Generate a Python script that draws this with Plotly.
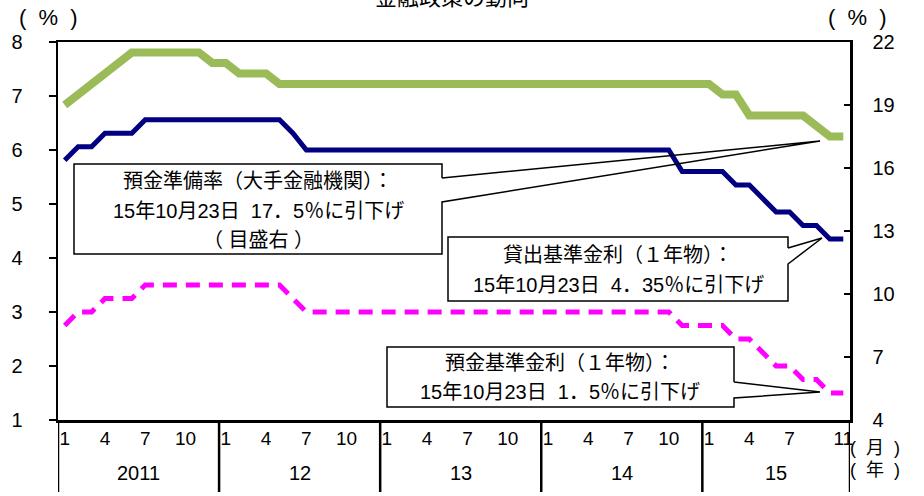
import plotly.graph_objects as go

# ---------------- data ----------------
years = ["2011", "12", "13", "14", "15"]
month_numbers = (list(range(1, 13)) * 4) + list(range(1, 12))  # Jan 2011 .. Nov 2015
month_tick_labels = ["1", "4", "7", "10", "1", "4", "7", "10", "1", "4", "7", "10",
                     "1", "4", "7", "10", "1", "4", "7", "11"]

# 貸出基準金利（1年物）, % (left axis)
lending_rate = [
    5.81, 6.06, 6.06, 6.31, 6.31, 6.31, 6.56, 6.56, 6.56, 6.56, 6.56, 6.56,
    6.56, 6.56, 6.56, 6.56, 6.56, 6.31, 6.00, 6.00, 6.00, 6.00, 6.00, 6.00,
    6.00, 6.00, 6.00, 6.00, 6.00, 6.00, 6.00, 6.00, 6.00, 6.00, 6.00, 6.00,
    6.00, 6.00, 6.00, 6.00, 6.00, 6.00, 6.00, 6.00, 6.00, 6.00, 5.60, 5.60,
    5.60, 5.60, 5.35, 5.35, 5.10, 4.85, 4.85, 4.60, 4.60, 4.35, 4.35,
]
# 預金基準金利（1年物）, % (left axis)
deposit_rate = [
    2.75, 3.00, 3.00, 3.25, 3.25, 3.25, 3.50, 3.50, 3.50, 3.50, 3.50, 3.50,
    3.50, 3.50, 3.50, 3.50, 3.50, 3.25, 3.00, 3.00, 3.00, 3.00, 3.00, 3.00,
    3.00, 3.00, 3.00, 3.00, 3.00, 3.00, 3.00, 3.00, 3.00, 3.00, 3.00, 3.00,
    3.00, 3.00, 3.00, 3.00, 3.00, 3.00, 3.00, 3.00, 3.00, 3.00, 2.75, 2.75,
    2.75, 2.75, 2.50, 2.50, 2.25, 2.00, 2.00, 1.75, 1.75, 1.50, 1.50,
]
# 預金準備率（大手金融機関）, % (right axis)
reserve_ratio = [
    19.0, 19.5, 20.0, 20.5, 21.0, 21.5, 21.5, 21.5, 21.5, 21.5, 21.5, 21.0,
    21.0, 20.5, 20.5, 20.5, 20.0, 20.0, 20.0, 20.0, 20.0, 20.0, 20.0, 20.0,
    20.0, 20.0, 20.0, 20.0, 20.0, 20.0, 20.0, 20.0, 20.0, 20.0, 20.0, 20.0,
    20.0, 20.0, 20.0, 20.0, 20.0, 20.0, 20.0, 20.0, 20.0, 20.0, 20.0, 20.0,
    20.0, 19.5, 19.5, 18.5, 18.5, 18.5, 18.5, 18.5, 18.0, 17.5, 17.5,
]

left_ticks = [1, 2, 3, 4, 5, 6, 7, 8]
right_ticks = [4, 7, 10, 13, 16, 19, 22]

# ---------------- layout geometry (pixels) ----------------
W, H = 924, 496
L, R, T, B = 58, 850, 42, 420
FONT = "Liberation Sans, Arial, Noto Sans CJK JP, sans-serif"


def px(x):
    return (x - L) / (R - L)


def py(y):
    return (B - y) / (B - T)


n = len(month_numbers)
xs = list(range(n))
month_tick_vals = [i for i, m in enumerate(month_numbers)
                   if (i < 48 and m in (1, 4, 7, 10)) or (i >= 48 and m in (1, 4, 7, 11))]

fig = go.Figure()
fig.add_trace(go.Scatter(x=xs, y=reserve_ratio, yaxis="y2", mode="lines",
                         line=dict(color="#9BBB59", width=8), name="預金準備率",
                         hoverinfo="skip"))
fig.add_trace(go.Scatter(x=xs, y=lending_rate, mode="lines",
                         line=dict(color="#000080", width=5), name="貸出基準金利",
                         hoverinfo="skip"))
fig.add_trace(go.Scatter(x=xs, y=deposit_rate, mode="lines",
                         line=dict(color="#FF00FF", width=5, dash="14px,9px"),
                         name="預金基準金利", hoverinfo="skip"))

shapes = []
annotations = []

# year separators below the axis
for k in range(len(years) + 1):
    xv = -0.5 + 12 * k if k < len(years) else n - 0.5
    shapes.append(dict(type="line", xref="x", yref="paper", x0=xv, x1=xv,
                       y0=0, y1=py(492), line=dict(color="black", width=2.5),
                       layer="above"))
for k, yr in enumerate(years):
    start = 12 * k
    end = min(12 * (k + 1), n) - 1
    annotations.append(dict(x=(start + end) / 2, xref="x", y=py(473), yref="paper",
                            text=yr, showarrow=False, xanchor="center",
                            yanchor="middle", font=dict(size=20, color="black")))


def callout(x0, y0, x1, y1, ya, yb, tipx, tipy):
    # white box
    shapes.append(dict(type="rect", xref="paper", yref="paper",
                       x0=px(x0), x1=px(x1), y0=py(y0), y1=py(y1),
                       fillcolor="white", line=dict(width=0), layer="above"))
    pts = [(x1, ya), (x1, y0), (x0, y0), (x0, y1), (x1, y1), (x1, yb), (tipx, tipy), (x1, ya)]
    path = "M " + " L ".join(f"{px(a):.5f},{py(b):.5f}" for a, b in pts)
    shapes.append(dict(type="path", xref="paper", yref="paper", path=path,
                       fillcolor="rgba(0,0,0,0)", line=dict(color="black", width=1.5),
                       layer="above"))


def text_lines(cx, ys, lines):
    for yv, t in zip(ys, lines):
        annotations.append(dict(x=px(cx), xref="paper", y=py(yv), yref="paper",
                                text=t, showarrow=False, xanchor="center",
                                yanchor="middle", font=dict(size=20, color="black")))


callout(74, 164, 442, 254, 178, 202, 820, 141)
text_lines(258, [181, 211, 240],
           ["預金準備率（大手金融機関）：", "15年10月23日  17．5％に引下げ", "（ 目盛右 ）"])

callout(448, 237, 788, 301, 248, 264, 822, 238)
text_lines(618, [255, 285],
           ["貸出基準金利（１年物）：", "15年10月23日  4．35％に引下げ"])

callout(387, 347, 734, 407, 382, 398, 820, 392)
text_lines(560, [363, 392],
           ["預金基準金利（１年物）：", "15年10月23日  1．5％に引下げ"])

# axis unit labels / title
annotations += [
    dict(x=px(48), xref="paper", y=py(17), yref="paper", text="(  %  )", showarrow=False,
         xanchor="center", yanchor="middle", font=dict(size=22, color="black")),
    dict(x=px(857), xref="paper", y=py(17), yref="paper", text="(  %  )", showarrow=False,
         xanchor="center", yanchor="middle", font=dict(size=22, color="black")),
    dict(x=px(452), xref="paper", y=py(-2), yref="paper", text="金融政策の動向",
         showarrow=False, xanchor="center", yanchor="middle",
         font=dict(size=22, color="black")),
    dict(x=px(875), xref="paper", y=py(448), yref="paper", text="(  月  )", showarrow=False,
         xanchor="center", yanchor="middle", font=dict(size=18, color="black")),
    dict(x=px(875), xref="paper", y=py(470), yref="paper", text="(  年  )", showarrow=False,
         xanchor="center", yanchor="middle", font=dict(size=18, color="black")),
]

fig.update_layout(
    width=W, height=H,
    margin=dict(l=L, r=W - R, t=T, b=H - B, pad=0, autoexpand=False),
    paper_bgcolor="white", plot_bgcolor="white",
    showlegend=False,
    font=dict(family=FONT, size=20, color="black"),
    xaxis=dict(range=[-0.5, n - 0.5], tickmode="array", tickvals=month_tick_vals,
               ticktext=month_tick_labels, ticks="", showgrid=False, zeroline=False,
               showline=True, mirror=True, linecolor="black", linewidth=2.5,
               tickfont=dict(size=19), ticklabelstandoff=0, automargin=False),
    yaxis=dict(range=[1, 8], tickmode="array", tickvals=left_ticks, ticks="outside",
               ticklen=7, tickwidth=2, tickcolor="black", showgrid=False, zeroline=False,
               showline=True, linecolor="black", linewidth=2.5,
               tickfont=dict(size=20), ticklabelstandoff=22, automargin=False),
    yaxis2=dict(range=[4, 22], tickmode="array", tickvals=right_ticks, ticks="inside",
                ticklen=6, tickwidth=2, tickcolor="black", overlaying="y", side="right",
                showgrid=False, zeroline=False, showline=True, linecolor="black",
                linewidth=2.5, tickfont=dict(size=20), ticklabelstandoff=16,
                automargin=False),
    shapes=shapes,
    annotations=annotations,
)

# remove the default page margin so the figure sits at the window's top-left corner
fig.write_html("out.html",
               config={"displayModeBar": False, "staticPlot": True},
               post_script="document.body.style.margin='0';document.body.style.overflow='hidden';")
